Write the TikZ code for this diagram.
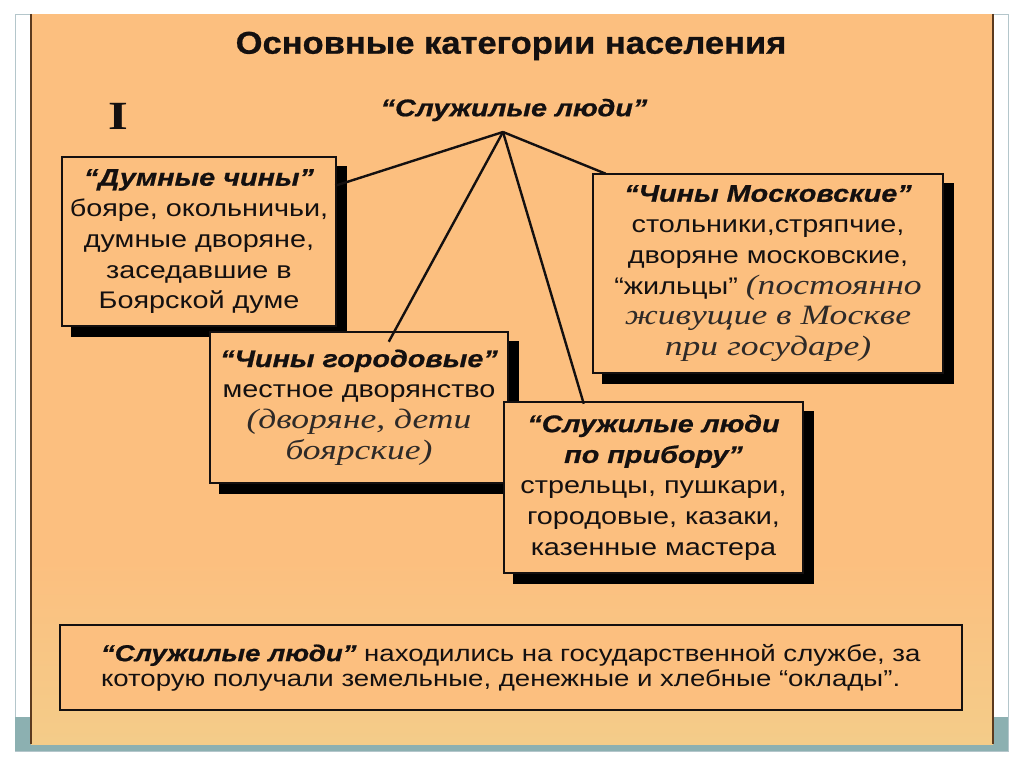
\documentclass[tikz,border=0pt]{standalone}
\usepackage{fontspec}
\usetikzlibrary{calc}
\newfontfamily\lsans[FakeStretch=1.2, BoldFeatures={FakeBold=0.8}, BoldItalicFeatures={FakeBold=0.8}]{Liberation Sans}
\newfontfamily\ltitle[FakeStretch=1.1, BoldFeatures={FakeBold=0.8}]{Liberation Sans}
\newfontfamily\lserif[FakeStretch=1.27]{Liberation Serif}
\definecolor{bg}{HTML}{FCBF7F}
\definecolor{bgb}{HTML}{F4CC89}
\definecolor{tealband}{HTML}{8CB0B1}
\definecolor{framecol}{HTML}{B4C6CB}
\definecolor{edgecol}{HTML}{5C3A1E}
\definecolor{ink}{HTML}{141010}
\definecolor{softink}{HTML}{2E2A28}
\newcommand{\qt}[1]{{\bfseries\itshape “#1”}}
\newcommand{\ser}[1]{{\lserif\itshape\fontsize{28}{30.5}\selectfont\color{softink}#1}}
\begin{document}
\begin{tikzpicture}[x=1pt,y=-1pt,
  box/.style={draw=ink, line width=2.5pt, fill=bg, rectangle, inner sep=0pt,
    align=center, text=ink, font=\lsans\fontsize{24}{30.8}\selectfont,
    preaction={draw=black, fill=black, line width=2.5pt,
      transform canvas={xshift=10pt, yshift=-10pt}}},
  link/.style={draw=ink, line width=2.4pt}]
\useasboundingbox (0,0) rectangle (1024,767);
\fill[white] (0,0) rectangle (1024,767);
\draw[framecol, line width=1pt] (15,15) rectangle (1008,751);
\fill[tealband] (15,717) rectangle (1008,751);
\fill[bg] (31,14) rectangle (993,560);
\shade[top color=bg, bottom color=bgb] (31,559) rectangle (993,744);
\draw[edgecol, line width=1.5pt] (31,14) -- (31,744) (993,14) -- (993,744);

\node[font=\ltitle\bfseries\fontsize{31.4}{36}\selectfont, text=ink] (title) at (511,46) {Основные категории населения};
\node[font=\lserif\bfseries\fontsize{40}{40}\selectfont, text=ink] (roman) at (118,116) {I};
\node[font=\lsans\bfseries\itshape\fontsize{24}{26}\selectfont, text=ink] (sl) at (514,110) {“Служилые люди”};
\coordinate (hub) at (503,132);

\node[box, minimum width=274pt, minimum height=169pt] (dum) at (199,241.5)
  {\qt{Думные чины}\\бояре, окольничьи,\\думные дворяне,\\заседавшие в\\Боярской думе};
\node[box, minimum width=350pt, minimum height=199pt] (mos) at (768,273.5)
  {\qt{Чины Московские}\\стольники,стряпчие,\\дворяне московские,\\“жильцы” \ser{(постоянно}\\\ser{живущие в Москве}\\\ser{при государе)}};
\node[box, minimum width=298pt, minimum height=151pt] (gor) at (359,407.5)
  {\qt{Чины городовые}\\местное дворянство\\\ser{(дворяне, дети}\\\ser{боярские)}};
\node[box, minimum width=299pt, minimum height=171pt] (pri) at (653.5,487.5)
  {{\bfseries\itshape “Служилые люди}\\{\bfseries\itshape по прибору”}\\стрельцы, пушкари,\\городовые, казаки,\\казенные мастера};

\node[draw=ink, line width=2pt, fill=bg, inner xsep=41pt, inner ysep=0pt,
  minimum height=85pt, text width=820pt, align=left,
  font=\lsans\fontsize{23}{25}\selectfont, text=ink] (note) at (511,667.5)
  {{\bfseries\itshape “Служилые люди”} находились на государственной службе, за\\которую получали земельные, денежные и хлебные “оклады”.};

\coordinate (e1) at ($(dum.north east)+(-2,30)$);
\coordinate (e2) at ($(mos.north west)+(14,1)$);
\coordinate (e3) at ($(gor.north west)+(180,11)$);
\coordinate (e4) at ($(pri.north west)+(81,3)$);
\draw[link] (hub) -- (e1);
\draw[link] (hub) -- (e2);
\draw[link] (hub) -- (e3);
\draw[link] (hub) -- (e4);
\end{tikzpicture}
\end{document}
